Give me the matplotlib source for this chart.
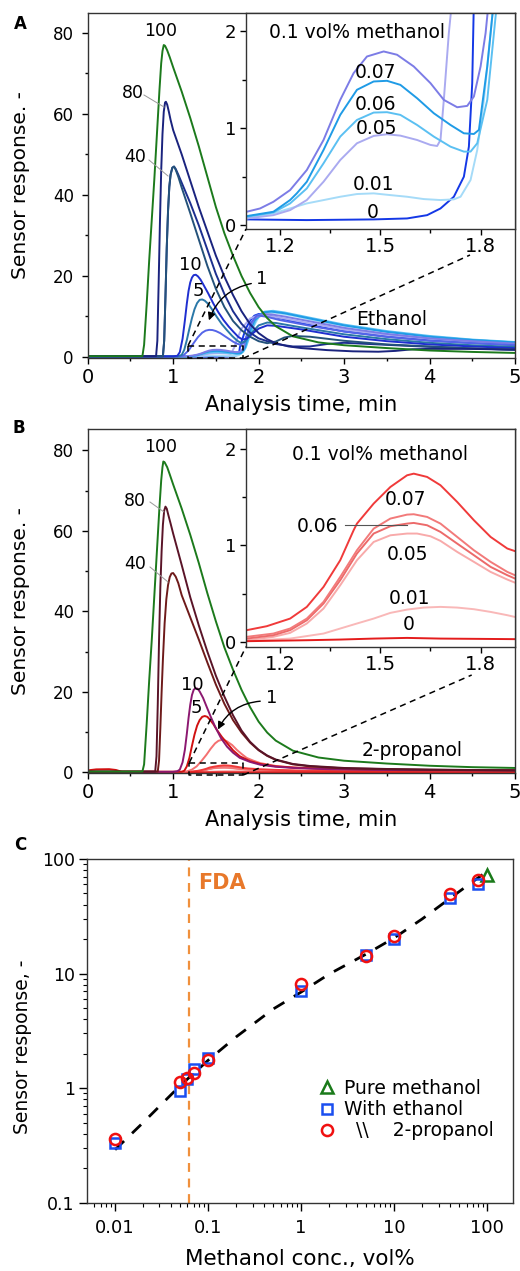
import matplotlib
matplotlib.use('Agg')
import matplotlib.pyplot as plt
from matplotlib.lines import Line2D
from matplotlib.patches import FancyArrowPatch
from matplotlib.ticker import MultipleLocator, FixedLocator, FixedFormatter, LogLocator, NullFormatter

plt.rcParams['font.family'] = ['DejaVu Sans']

# ---------------- Panel A data (methanol + ethanol) ----------------
A_100_t = [0, 0.64, 0.66, 0.69, 0.72, 0.75, 0.78, 0.81, 0.84, 0.86, 0.875, 0.89, 0.905, 0.93, 0.96, 1.0, 1.1, 1.2, 1.3, 1.4, 1.5, 1.6, 1.7, 1.8, 1.9, 2.0, 2.1, 2.2, 2.4, 2.7, 3.0, 3.5, 4.0, 4.5, 5.0]
A_100_y = [0.2, 0.2, 3, 13, 24, 34, 44, 55, 66, 72.5, 75.5, 77, 76.8, 75.7, 74, 71.5, 65.5, 59, 52, 44.5, 37, 30.5, 25, 20, 15.8, 12.3, 9.6, 7.6, 5.1, 3.6, 2.9, 2.2, 1.6, 1.25, 1.0]
A_80_t = [0, 0.80, 0.815, 0.83, 0.845, 0.86, 0.875, 0.89, 0.905, 0.915, 0.93, 0.95, 0.97, 1.0, 1.1, 1.2, 1.3, 1.4, 1.5, 1.6, 1.7, 1.8, 1.9, 2.0, 2.1, 2.2, 2.35, 2.5, 2.8, 3.1, 3.4, 3.6, 3.8, 4.0, 4.5, 5.0]
A_80_y = [0.2, 0.2, 4, 18, 33, 46, 55, 60.5, 62.8, 63, 62.3, 60.5, 58.5, 56, 50, 43.5, 37, 31, 25, 19.8, 15.3, 11.3, 8.1, 5.9, 4.4, 3.4, 2.6, 2.2, 1.7, 1.4, 1.3, 1.5, 1.9, 2.0, 2.0, 1.8]
A_40_t = [0, 0.88, 0.895, 0.91, 0.925, 0.94, 0.955, 0.97, 0.99, 1.01, 1.03, 1.06, 1.1, 1.2, 1.3, 1.4, 1.5, 1.6, 1.7, 1.8, 1.9, 2.0, 2.1, 2.2, 2.3, 2.4, 2.6, 3.0, 3.5, 4.0, 4.5, 5.0]
A_40_y = [0.2, 0.2, 4, 15, 27, 36, 42, 45, 46.7, 47, 46.2, 44.5, 41.8, 35.5, 29, 22.5, 16.8, 12.3, 8.9, 6.6, 5.0, 3.9, 3.4, 3.8, 4.8, 5.2, 5.0, 4.0, 3.1, 2.6, 2.1, 1.8]
A_40r_t = [0, 0.88, 0.895, 0.91, 0.925, 0.94, 0.955, 0.97, 0.99, 1.01, 1.03, 1.06, 1.1, 1.2, 1.3, 1.4, 1.5, 1.6, 1.7, 1.8, 1.9, 2.0, 2.2, 2.4, 2.6, 2.8, 3.0, 3.5, 4.0, 4.5, 5.0]
A_40r_y = [0.2, 0.2, 4, 15, 27, 36, 42, 45, 46.7, 47, 46.4, 45, 43, 38, 32.5, 26.5, 20.5, 15.5, 11.3, 8.2, 6.0, 4.6, 3.2, 2.6, 2.6, 3.2, 3.5, 3.0, 2.5, 2.1, 1.8]
A_10_t = [0, 1.0, 1.05, 1.078, 1.11, 1.137, 1.16, 1.18, 1.2, 1.22, 1.24, 1.265, 1.29, 1.32, 1.35, 1.41, 1.47, 1.53, 1.59, 1.65, 1.706, 1.76, 1.81, 1.86, 1.93, 2.0, 2.1, 2.2, 2.5, 3.0, 3.5, 4.0, 4.5, 5.0]
A_10_y = [0.15, 0.15, 0.3, 1.2, 4.5, 9, 13.2, 16.3, 18.4, 19.6, 20.2, 20.3, 19.9, 19.1, 18.0, 15.7, 13.2, 11, 9.1, 7.5, 6.2, 5.0, 4.3, 4.5, 5.8, 7.0, 7.8, 7.7, 6.8, 5.0, 3.9, 3.1, 2.6, 2.2]
A_5_t = [0, 1.05, 1.1, 1.13, 1.16, 1.19, 1.22, 1.25, 1.28, 1.31, 1.34, 1.37, 1.41, 1.45, 1.51, 1.57, 1.63, 1.69, 1.745, 1.79, 1.84, 1.9, 2.0, 2.1, 2.2, 2.5, 3.0, 3.5, 4.0, 4.5, 5.0]
A_5_y = [0.15, 0.15, 0.5, 1.8, 4.2, 7.0, 9.6, 11.8, 13.3, 14.1, 14.2, 13.9, 13.1, 11.9, 9.9, 8.1, 6.6, 5.2, 4.1, 3.5, 3.8, 5.5, 7.8, 8.5, 8.4, 7.3, 5.6, 4.4, 3.5, 2.9, 2.5]
A_1_t = [0, 1.08, 1.12, 1.18, 1.235, 1.29, 1.34, 1.38, 1.42, 1.46, 1.5, 1.55, 1.6, 1.65, 1.7, 1.745, 1.79, 1.83, 1.87, 1.91, 1.98, 2.1, 2.25, 2.4, 2.7, 3.0, 3.5, 4.0, 4.5, 5.0]
A_1_y = [0.15, 0.15, 0.4, 1.6, 3.3, 4.9, 6.0, 6.5, 6.7, 6.65, 6.4, 5.9, 5.2, 4.5, 3.8, 3.3, 3.0, 3.6, 5.8, 8.4, 10.3, 9.9, 9.1, 8.5, 7.3, 6.3, 5.0, 4.0, 3.4, 2.9]
A_01_t = [0, 1.0, 1.10, 1.14, 1.18, 1.23, 1.28, 1.33, 1.38, 1.42, 1.46, 1.51, 1.55, 1.60, 1.65, 1.69, 1.73, 1.76, 1.78, 1.80, 1.815, 1.825, 1.85, 1.9, 1.95, 2.05, 2.15, 2.3, 2.6, 3.0, 3.5, 4.0, 4.5, 5.0]
A_01_y = [0.1, 0.1, 0.138, 0.172, 0.241, 0.362, 0.569, 0.879, 1.293, 1.569, 1.741, 1.793, 1.759, 1.638, 1.466, 1.293, 1.217, 1.231, 1.328, 1.638, 1.983, 2.33, 4.5, 7.5, 9.5, 10.6, 10.5, 10.0, 8.8, 7.2, 5.7, 4.6, 3.9, 3.3]
A_007_t = [0, 1.0, 1.10, 1.18, 1.23, 1.25, 1.28, 1.33, 1.38, 1.43, 1.48, 1.52, 1.56, 1.61, 1.66, 1.71, 1.75, 1.78, 1.795, 1.82, 1.84, 1.88, 1.95, 2.05, 2.15, 2.3, 2.6, 3.0, 3.5, 4.0, 4.5, 5.0]
A_007_y = [0.08, 0.08, 0.093, 0.138, 0.259, 0.328, 0.448, 0.776, 1.138, 1.397, 1.483, 1.49, 1.448, 1.31, 1.155, 1.034, 0.948, 0.941, 0.983, 1.638, 2.33, 5.5, 9.0, 11.0, 11.2, 10.8, 9.5, 7.8, 6.2, 5.0, 4.2, 3.6]
A_006_t = [0, 1.0, 1.10, 1.18, 1.23, 1.28, 1.33, 1.38, 1.43, 1.48, 1.52, 1.56, 1.61, 1.66, 1.71, 1.75, 1.77, 1.79, 1.82, 1.84, 1.85, 1.9, 1.97, 2.07, 2.17, 2.3, 2.6, 3.0, 3.5, 4.0, 4.5, 5.0]
A_006_y = [0.07, 0.07, 0.086, 0.131, 0.224, 0.379, 0.638, 0.914, 1.086, 1.162, 1.166, 1.138, 1.034, 0.914, 0.81, 0.759, 0.759, 0.845, 1.293, 1.983, 2.33, 5.5, 9.2, 11.2, 11.4, 11.0, 9.7, 8.0, 6.4, 5.2, 4.3, 3.7]
A_005_t = [0, 1.0, 1.10, 1.18, 1.23, 1.28, 1.33, 1.38, 1.43, 1.48, 1.52, 1.56, 1.61, 1.65, 1.67, 1.68, 1.69, 1.705, 1.715, 1.75, 1.8, 1.9, 2.0, 2.1, 2.3, 2.6, 3.0, 3.5, 4.0, 4.5, 5.0]
A_005_y = [0.06, 0.06, 0.069, 0.103, 0.155, 0.259, 0.448, 0.672, 0.845, 0.921, 0.938, 0.924, 0.879, 0.828, 0.817, 0.879, 1.293, 1.983, 2.33, 4.5, 7.0, 9.5, 10.3, 10.2, 9.5, 8.3, 6.8, 5.5, 4.5, 3.8, 3.3]
A_001_t = [0, 1.0, 1.10, 1.18, 1.28, 1.38, 1.43, 1.48, 1.53, 1.58, 1.63, 1.68, 1.72, 1.74, 1.77, 1.79, 1.81, 1.83, 1.84, 1.9, 2.0, 2.1, 2.2, 2.4, 2.7, 3.0, 3.5, 4.0, 4.5, 5.0]
A_001_y = [0.06, 0.06, 0.069, 0.121, 0.224, 0.293, 0.321, 0.328, 0.31, 0.293, 0.269, 0.259, 0.266, 0.293, 0.466, 0.776, 1.293, 1.983, 2.33, 6.0, 9.8, 10.9, 10.9, 10.2, 8.8, 7.7, 6.2, 5.0, 4.2, 3.6]
A_0_t = [0, 1.10, 1.28, 1.48, 1.58, 1.64, 1.68, 1.72, 1.75, 1.765, 1.775, 1.78, 1.8, 1.85, 1.9, 1.95, 2.0, 2.1, 2.3, 2.6, 3.0, 3.5, 4.0, 4.5, 5.0]
A_0_y = [0.06, 0.059, 0.052, 0.059, 0.069, 0.103, 0.172, 0.293, 0.5, 0.81, 1.466, 2.33, 3.8, 7.0, 9.0, 10.2, 10.6, 10.3, 9.3, 7.9, 6.3, 5.0, 4.1, 3.5, 3.0]

# ---------------- Panel B data (methanol + 2-propanol) ----------------
B_100_t = [0, 0.64, 0.66, 0.69, 0.72, 0.75, 0.78, 0.81, 0.84, 0.86, 0.875, 0.885, 0.9, 0.93, 0.96, 1.0, 1.1, 1.2, 1.3, 1.4, 1.5, 1.6, 1.7, 1.8, 1.9, 2.0, 2.1, 2.2, 2.4, 2.7, 3.0, 3.5, 4.0, 4.5, 5.0]
B_100_y = [0.2, 0.2, 2, 12, 23, 33, 44, 55, 66, 72.5, 75.8, 77.2, 77, 75.8, 74, 71.5, 65.5, 59, 52, 44.5, 37.5, 31, 25.5, 20.5, 16.2, 12.6, 9.9, 7.9, 5.4, 3.7, 2.9, 2.2, 1.65, 1.3, 1.1]
B_80_t = [0, 0.79, 0.805, 0.82, 0.835, 0.85, 0.865, 0.88, 0.895, 0.91, 0.925, 0.945, 0.97, 1.0, 1.1, 1.2, 1.3, 1.4, 1.5, 1.6, 1.7, 1.8, 1.9, 2.0, 2.1, 2.2, 2.4, 2.6, 3.0, 3.5, 4.0, 4.5, 5.0]
B_80_y = [0.2, 0.2, 4, 17, 33, 46, 55, 61.5, 65, 66, 65.5, 63.8, 61.8, 59.3, 51.5, 43.5, 36.5, 30, 24, 18.8, 14.2, 10.4, 7.6, 5.6, 4.2, 3.2, 2.1, 1.6, 1.1, 0.85, 0.7, 0.6, 0.5]
B_40_t = [0, 0.82, 0.835, 0.85, 0.865, 0.88, 0.9, 0.92, 0.94, 0.96, 0.98, 1.0, 1.03, 1.06, 1.1, 1.2, 1.3, 1.4, 1.5, 1.6, 1.7, 1.8, 1.9, 2.0, 2.1, 2.2, 2.4, 2.6, 3.0, 3.5, 4.0, 4.5, 5.0]
B_40_y = [0.2, 0.2, 3, 11, 20, 28, 37, 43, 46.5, 48.5, 49.4, 49.5, 48.6, 47, 44, 38.5, 33, 27.3, 21.8, 17, 13, 9.9, 7.4, 5.5, 4.1, 3.1, 2.0, 1.5, 1.0, 0.8, 0.65, 0.55, 0.5]
B_10_t = [0, 1.0, 1.05, 1.078, 1.11, 1.137, 1.16, 1.18, 1.2, 1.22, 1.24, 1.26, 1.285, 1.31, 1.35, 1.39, 1.44, 1.49, 1.56, 1.63, 1.7, 1.78, 1.9, 2.02, 2.2, 2.41, 2.8, 3.5, 4.0, 5.0]
B_10_y = [0.15, 0.15, 0.3, 0.7, 2.5, 5.6, 9.6, 13.5, 16.8, 19.2, 20.5, 20.9, 20.8, 20.1, 18.5, 16.4, 13.8, 11.4, 8.5, 6.4, 4.9, 3.6, 2.6, 1.9, 1.4, 1.1, 0.8, 0.6, 0.55, 0.5]
B_5_t = [0, 0.1, 0.25, 0.33, 0.4, 1.1, 1.13, 1.16, 1.19, 1.22, 1.25, 1.28, 1.31, 1.34, 1.37, 1.4, 1.43, 1.47, 1.51, 1.57, 1.63, 1.7, 1.78, 1.9, 2.02, 2.2, 2.41, 2.8, 3.5, 4.0, 5.0]
B_5_y = [0.5, 0.75, 0.8, 0.6, 0.15, 0.15, 0.4, 1.5, 3.6, 6.6, 9.4, 11.6, 13.0, 13.8, 14.0, 13.8, 13.1, 12.0, 10.6, 8.8, 7.3, 5.5, 4.0, 2.8, 2.1, 1.5, 1.2, 0.85, 0.6, 0.55, 0.5]
B_1_t = [0, 1.1, 1.157, 1.22, 1.275, 1.33, 1.39, 1.44, 1.49, 1.53, 1.57, 1.6, 1.63, 1.69, 1.745, 1.8, 1.86, 1.94, 2.02, 2.2, 2.41, 2.8, 3.5, 4.0, 5.0]
B_1_y = [0.15, 0.15, 0.2, 0.7, 1.5, 2.8, 4.4, 5.9, 7.2, 7.85, 8.1, 8.0, 7.7, 6.8, 5.6, 4.6, 3.6, 2.9, 2.3, 1.6, 1.2, 0.85, 0.6, 0.55, 0.5]
B_01_t = [0, 1.0, 1.10, 1.16, 1.23, 1.28, 1.33, 1.38, 1.40, 1.42, 1.43, 1.48, 1.53, 1.58, 1.60, 1.64, 1.68, 1.73, 1.78, 1.83, 1.88, 1.91, 2.0, 2.2, 2.5, 3.0, 3.5, 4.0, 5.0]
B_01_y = [0.1, 0.1, 0.121, 0.162, 0.241, 0.362, 0.569, 0.845, 1.0, 1.155, 1.224, 1.431, 1.603, 1.724, 1.741, 1.707, 1.621, 1.448, 1.259, 1.086, 0.966, 0.931, 0.8, 0.62, 0.45, 0.3, 0.25, 0.22, 0.2]
B_007_t = [0, 1.0, 1.10, 1.18, 1.23, 1.28, 1.33, 1.38, 1.43, 1.48, 1.53, 1.58, 1.60, 1.64, 1.68, 1.73, 1.78, 1.83, 1.88, 1.91, 2.0, 2.2, 2.5, 3.0, 4.0, 5.0]
B_007_y = [0.05, 0.05, 0.052, 0.086, 0.138, 0.241, 0.414, 0.672, 0.948, 1.172, 1.276, 1.317, 1.321, 1.293, 1.224, 1.086, 0.948, 0.828, 0.724, 0.679, 0.58, 0.45, 0.33, 0.25, 0.2, 0.18]
B_006_t = [0, 1.0, 1.10, 1.18, 1.23, 1.28, 1.33, 1.38, 1.43, 1.48, 1.53, 1.58, 1.60, 1.64, 1.68, 1.73, 1.78, 1.83, 1.88, 1.91, 2.0, 2.2, 2.5, 3.0, 4.0, 5.0]
B_006_y = [0.03, 0.03, 0.034, 0.069, 0.121, 0.224, 0.397, 0.638, 0.914, 1.121, 1.197, 1.224, 1.231, 1.207, 1.138, 1.017, 0.897, 0.776, 0.69, 0.645, 0.55, 0.43, 0.32, 0.24, 0.2, 0.18]
B_005_t = [0, 1.0, 1.10, 1.18, 1.23, 1.28, 1.33, 1.38, 1.43, 1.48, 1.53, 1.58, 1.61, 1.65, 1.68, 1.73, 1.78, 1.83, 1.88, 1.91, 2.0, 2.2, 2.5, 3.0, 4.0, 5.0]
B_005_y = [0.02, 0.02, 0.017, 0.052, 0.093, 0.19, 0.345, 0.586, 0.845, 1.034, 1.103, 1.121, 1.121, 1.093, 1.045, 0.931, 0.828, 0.724, 0.645, 0.603, 0.52, 0.41, 0.31, 0.23, 0.19, 0.17]
B_001_t = [0, 1.0, 1.10, 1.23, 1.33, 1.43, 1.48, 1.53, 1.58, 1.63, 1.68, 1.73, 1.78, 1.83, 1.88, 1.91, 2.0, 2.2, 2.5, 3.0, 4.0, 5.0]
B_001_y = [0.01, 0.01, 0.01, 0.034, 0.086, 0.19, 0.241, 0.3, 0.334, 0.355, 0.362, 0.355, 0.338, 0.31, 0.276, 0.252, 0.22, 0.18, 0.15, 0.12, 0.1, 0.1]
B_0_t = [0, 1.10, 1.28, 1.38, 1.48, 1.58, 1.68, 1.91, 2.5, 3.0, 5.0]
B_0_y = [0.01, 0.007, 0.017, 0.024, 0.034, 0.041, 0.034, 0.028, 0.03, 0.03, 0.03]

# ---------------- Panel C data ----------------
conc_pure = [100]
resp_pure = [72]
conc_mix = [0.01, 0.05, 0.06, 0.07, 0.1, 1, 5, 10, 40, 80]
resp_ethanol = [0.33, 0.95, 1.2, 1.47, 1.83, 7.1, 14.5, 19.9, 46, 61]
resp_propanol = [0.36, 1.12, 1.22, 1.35, 1.77, 8.1, 14.3, 21.3, 49.4, 65.5]
fit_conc = [0.01, 0.02, 0.05, 0.1, 0.2, 0.5, 1, 2, 5, 10, 20, 50, 95]
fit_resp = [0.29, 0.50, 1.05, 1.75, 2.8, 4.9, 6.9, 9.9, 14.8, 20.5, 30, 52, 76]
fda_limit = 0.063

# ---------------- figure ----------------
W, H = 520, 1271
fig = plt.figure(figsize=(W / 100, H / 100), dpi=100)


def axes_px(l, t, r, b):
    return fig.add_axes([l / W, 1 - b / H, (r - l) / W, (b - t) / H])


def ftext(px, py, s, size=12.5, **kw):
    fig.text(px / W, 1 - py / H, s, fontsize=size, ha=kw.pop('ha', 'center'),
             va=kw.pop('va', 'center'), zorder=20, **kw)


def fline(xs, ys, **kw):
    kw.setdefault('zorder', 8)
    fig.add_artist(Line2D([x / W for x in xs], [1 - y / H for y in ys],
                          transform=fig.transFigure, **kw))


def farrow(x0, y0, x1, y1, rad):
    fig.add_artist(FancyArrowPatch(
        (x0 / W, 1 - y0 / H), (x1 / W, 1 - y1 / H), transform=fig.transFigure,
        arrowstyle='-|>', mutation_scale=11, lw=1.0, color='black',
        connectionstyle=f'arc3,rad={rad}', zorder=8))


GREEN = '#1c7a1c'
LW = 1.4


def style_main(ax, ylim):
    ax.set_xlim(0, 5)
    ax.set_ylim(*ylim)
    ax.xaxis.set_major_locator(MultipleLocator(1))
    ax.xaxis.set_minor_locator(MultipleLocator(0.5))
    ax.yaxis.set_major_locator(MultipleLocator(20))
    ax.yaxis.set_minor_locator(MultipleLocator(10))
    ax.tick_params(axis='x', which='major', direction='out', length=4, width=1, labelsize=14, pad=3)
    ax.tick_params(axis='x', which='minor', direction='out', length=2.5, width=1)
    ax.tick_params(axis='y', which='major', direction='out', length=4, width=1, labelsize=12, pad=6)
    ax.tick_params(axis='y', which='minor', direction='out', length=2.5, width=1)
    for s in ax.spines.values():
        s.set_linewidth(1.0)
        s.set_color('#333333')


def style_inset(ax):
    ax.set_xlim(1.098, 1.903)
    ax.xaxis.set_major_locator(FixedLocator([1.2, 1.5, 1.8]))
    ax.xaxis.set_major_formatter(FixedFormatter(['1.2', '1.5', '1.8']))
    ax.xaxis.set_minor_locator(FixedLocator([1.35, 1.65]))
    ax.yaxis.set_major_locator(FixedLocator([0, 1, 2]))
    ax.yaxis.set_minor_locator(FixedLocator([0.5, 1.5]))
    ax.tick_params(axis='x', which='major', direction='out', length=4, width=1, labelsize=14, pad=2)
    ax.tick_params(axis='x', which='minor', direction='out', length=3, width=1)
    ax.tick_params(axis='y', which='major', direction='out', length=4, width=1, labelsize=13, pad=3)
    ax.tick_params(axis='y', which='minor', direction='out', length=3, width=1)
    for s in ax.spines.values():
        s.set_linewidth(1.0)
        s.set_color('#333333')


def label_main(ax, xlabel_y):
    ax.set_xlabel('Analysis time, min', fontsize=15)
    ax.xaxis.set_label_coords(0.5, xlabel_y)
    ax.xaxis.label.set_va('center')
    ax.set_ylabel('Sensor response. -', fontsize=14.5)
    ax.yaxis.set_label_coords(-0.158, 0.5)
    ax.yaxis.label.set_va('center')


# ================= Panel A =================
axA = axes_px(87.7, 13, 515, 358)
insA = axes_px(246, 13, 515, 229)
insA.set_zorder(5)

A_low = [
    (A_0_t, A_0_y, '#1438e6'),
    (A_001_t, A_001_y, '#a5dbf8'),
    (A_005_t, A_005_y, '#aaaaf0'),
    (A_006_t, A_006_y, '#5bc0f2'),
    (A_007_t, A_007_y, '#1f9be6'),
    (A_01_t, A_01_y, '#7c7ce6'),
]
A_high = [
    (A_1_t, A_1_y, '#5565e8'),
    (A_5_t, A_5_y, '#2a78a8'),
    (A_10_t, A_10_y, '#1f2fd0'),
    (A_40r_t, A_40r_y, '#1c2f8f'),
    (A_40_t, A_40_y, '#24527a'),
    (A_80_t, A_80_y, '#1a237e'),
    (A_100_t, A_100_y, GREEN),
]
for t, y, c in A_low + A_high:
    axA.plot(t, y, color=c, lw=LW)
for t, y, c in A_low:
    insA.plot(t, y, color=c, lw=LW)
style_main(axA, (-0.25, 84.9))
style_inset(insA)
insA.set_ylim(-0.04, 2.19)
label_main(axA, -0.137)

# ================= Panel B =================
axB = axes_px(87.7, 429.3, 515, 773)
insB = axes_px(246, 429.3, 515, 646.7)
insB.set_zorder(5)

B_low = [
    (B_001_t, B_001_y, '#f9b8b8'),
    (B_005_t, B_005_y, '#f8aaaa'),
    (B_006_t, B_006_y, '#ec6a6a'),
    (B_007_t, B_007_y, '#f27a7a'),
    (B_01_t, B_01_y, '#f03a3a'),
    (B_0_t, B_0_y, '#e41c1c'),
]
B_high = [
    (B_1_t, B_1_y, '#f47070'),
    (B_5_t, B_5_y, '#d01010'),
    (B_10_t, B_10_y, '#8c1870'),
    (B_40_t, B_40_y, '#6e1a1a'),
    (B_80_t, B_80_y, '#5a1428'),
    (B_100_t, B_100_y, GREEN),
]
for t, y, c in B_low + B_high:
    axB.plot(t, y, color=c, lw=LW)
for t, y, c in B_low:
    insB.plot(t, y, color=c, lw=LW)
style_main(axB, (-0.15, 85.2))
style_inset(insB)
insB.set_ylim(-0.05, 2.2)
label_main(axB, -0.137)

# ================= Panel C =================
axC = axes_px(87.3, 859, 513, 1202.7)
axC.set_xscale('log')
axC.set_yscale('log')
axC.set_xlim(0.00503, 189)
axC.set_ylim(0.1, 100)
axC.axvline(fda_limit, color='#f0903c', lw=1.6, ls=(0, (4, 3)), zorder=1)
axC.plot(fit_conc, fit_resp, color='black', lw=2.0, ls=(0, (4.5, 4)), zorder=2)
axC.plot(conc_pure, resp_pure, ls='none', marker='^', ms=9, mfc='none', mec='#1a7a1a', mew=1.8,
         label='Pure methanol', zorder=3)
axC.plot(conc_mix, resp_ethanol, ls='none', marker='s', ms=7.5, mfc='none', mec='#1a4ef0', mew=1.8,
         label='With ethanol', zorder=3)
axC.plot(conc_mix, resp_propanol, ls='none', marker='o', ms=8, mfc='none', mec='#f01010', mew=1.8,
         label='  \\\\    2-propanol', zorder=4)
axC.xaxis.set_major_locator(FixedLocator([0.01, 0.1, 1, 10, 100]))
axC.xaxis.set_major_formatter(FixedFormatter(['0.01', '0.1', '1', '10', '100']))
axC.yaxis.set_major_locator(FixedLocator([0.1, 1, 10, 100]))
axC.yaxis.set_major_formatter(FixedFormatter(['0.1', '1', '10', '100']))
axC.xaxis.set_minor_locator(LogLocator(base=10, subs=range(2, 10), numticks=20))
axC.yaxis.set_minor_locator(LogLocator(base=10, subs=range(2, 10), numticks=20))
axC.xaxis.set_minor_formatter(NullFormatter())
axC.yaxis.set_minor_formatter(NullFormatter())
axC.tick_params(axis='both', which='major', direction='out', length=6, width=1)
axC.tick_params(axis='both', which='minor', direction='out', length=3, width=0.8)
axC.tick_params(axis='x', which='major', labelsize=13, pad=6)
axC.tick_params(axis='y', which='major', labelsize=12.5, pad=3)
for s in axC.spines.values():
    s.set_linewidth(1.0)
    s.set_color('#333333')
axC.set_xlabel('Methanol conc., vol%', fontsize=15.5)
axC.xaxis.set_label_coords(0.5, -0.164)
axC.xaxis.label.set_va('center')
axC.set_ylabel('Sensor response, -', fontsize=13.5)
axC.yaxis.set_label_coords(-0.153, 0.454)
axC.yaxis.label.set_va('center')
axC.legend(loc='upper left', bbox_to_anchor=(0.542, 0.36), frameon=False, fontsize=13.5,
           handlelength=1.0, handletextpad=0.4, labelspacing=0.12, borderpad=0, borderaxespad=0)

# ================= annotations =================
ftext(20.8, 24, 'A', size=12, weight='bold')
ftext(19, 427.5, 'B', size=12, weight='bold')
ftext(20, 845, 'C', size=12, weight='bold')

# panel A curve labels
ftext(160.8, 31, '100')
ftext(132.5, 93.5, '80')
ftext(135, 157.5, '40')
ftext(190, 265, '10', size=13)
ftext(198.3, 291, '5', size=13)
ftext(262, 279, '1', size=13)
ftext(392, 320, 'Ethanol', size=13.5)
fline([144, 164], [95, 107], color='#999999', lw=0.7)
fline([149, 168], [160, 176], color='#999999', lw=0.7)
farrow(254, 283, 208, 323, 0.3)
ftext(356.7, 33, '0.1 vol% methanol', size=13.5)
ftext(375, 73, '0.07', size=13.5)
ftext(375, 105, '0.06', size=13.5)
ftext(376.7, 128, '0.05', size=13.5)
ftext(373, 184, '0.01', size=13.5)
ftext(372.7, 213, '0', size=13.5)
dash = dict(color='black', lw=1.1, ls=(0, (4, 3)))
fline([188, 243.3, 243.3, 188, 188], [345.7, 345.7, 358.3, 358.3, 345.7], **dash)
fline([188, 246], [345.7, 229], **dash)
fline([243.3, 470], [358.3, 255], **dash)

# panel B curve labels
ftext(160.8, 446.7, '100')
ftext(135, 500.8, '80')
ftext(135, 564, '40')
ftext(192.5, 685, '10', size=13)
ftext(196.7, 708.3, '5', size=13)
ftext(272, 698, '1', size=13)
ftext(411.7, 750, '2-propanol', size=13.5)
fline([150, 164], [502, 512], color='#999999', lw=0.7)
fline([150, 168], [567, 582], color='#999999', lw=0.7)
farrow(263, 701, 216.7, 732, 0.3)
ftext(380, 454, '0.1 vol% methanol', size=13.5)
ftext(405, 500, '0.07', size=13.5)
ftext(318, 526, '0.06', size=13.5)
ftext(408, 555, '0.05', size=13.5)
ftext(410, 598, '0.01', size=13.5)
ftext(409, 625, '0', size=13.5)
fline([345, 406.7], [525, 525], color='#555555', lw=0.8, zorder=10)
fline([189.3, 243.3, 243.3, 189.3, 189.3], [762.7, 762.7, 775, 775, 762.7], **dash)
fline([189.3, 246], [762.7, 646.7], **dash)
fline([243.3, 471.7], [775, 675], **dash)

ftext(221.7, 883, 'FDA', size=15, weight='bold', color='#e8782a')

fig.savefig('out.png', dpi=100)
